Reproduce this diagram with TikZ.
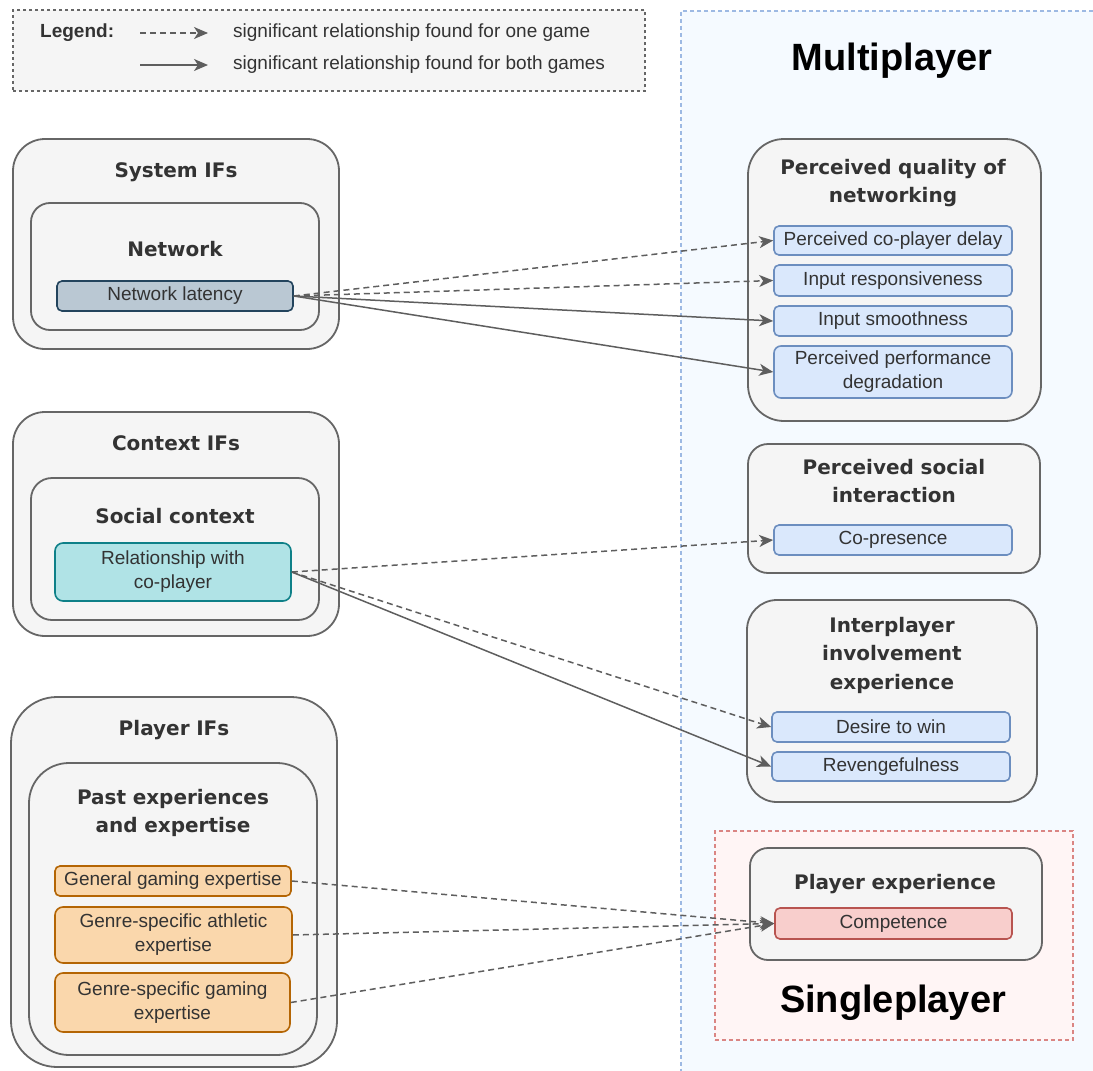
\documentclass[tikz,border=0pt]{standalone}
\usepackage{fontspec}
\setmainfont{Liberation Sans}
\newfontfamily\grpfont{DejaVu Sans}
\usepackage{tikz}
\usetikzlibrary{arrows.meta,positioning}
\definecolor{cbox}{HTML}{F5F5F5}
\definecolor{cline}{HTML}{666666}
\definecolor{ctext}{HTML}{333333}
\definecolor{cmulti}{HTML}{F5FAFF}
\definecolor{cmultiline}{HTML}{9DB9E3}
\definecolor{csingle}{HTML}{FFF5F5}
\definecolor{csingleline}{HTML}{DA8583}
\definecolor{cnetfill}{HTML}{BAC8D3}
\definecolor{cnetline}{HTML}{23445D}
\definecolor{csocfill}{HTML}{B0E3E6}
\definecolor{csocline}{HTML}{0E8088}
\definecolor{cexpfill}{HTML}{FAD7AC}
\definecolor{cexpline}{HTML}{B46504}
\definecolor{cmpfill}{HTML}{DAE8FC}
\definecolor{cmpline}{HTML}{6C8EBF}
\definecolor{cspfill}{HTML}{F8CECC}
\definecolor{cspline}{HTML}{B85450}
\definecolor{cedge}{HTML}{5E5E5E}

\begin{document}
\begin{tikzpicture}[x=1pt,y=-1pt,
  grp/.style={draw=cline,fill=cbox,line width=1.8pt,rounded corners=#1,inner sep=0pt},
  grp/.default=32pt,
  ttl/.style={font=\grpfont\bfseries\fontsize{20}{28.5}\selectfont,text=ctext,
              align=center,text width=280pt,anchor=base,inner sep=0pt},
  item/.style={draw,line width=1.6pt,rounded corners=5pt,align=center,text=ctext,
               font=\fontsize{19}{24}\selectfont,inner sep=1pt},
  netitem/.style={item,fill=cnetfill,draw=cnetline},
  socitem/.style={item,fill=csocfill,draw=csocline},
  expitem/.style={item,fill=cexpfill,draw=cexpline},
  mpitem/.style={item,fill=cmpfill,draw=cmpline},
  spitem/.style={item,fill=cspfill,draw=cspline},
  rlbl/.style={font=\bfseries\fontsize{38}{40}\selectfont,anchor=base,inner sep=0pt},
  lgtxt/.style={font=\fontsize{19}{22}\selectfont,text=ctext,anchor=west,inner sep=0pt},
  tip/.style={-{Stealth[length=14pt,width=12pt,inset=4pt]}},
  one/.style={tip,draw=cedge,line width=1.5pt,dash pattern=on 6pt off 4pt},
  both/.style={tip,draw=cedge,line width=1.5pt}]
\useasboundingbox (0,0) rectangle (1093,1071);
% regions
\fill[cmulti] (681,11) rectangle (1093,1071);
\draw[cmultiline,line width=1.4pt,dash pattern=on 4pt off 3pt] (1093,11) -| (681,1071);
\node (multi) [rlbl] at (892,70) {Multiplayer};
\node (single) [draw=csingleline,fill=csingle,line width=1.4pt,dash pattern=on 4pt off 3pt,
      minimum width=358pt,minimum height=209pt] at (894,935.5) {};
\node (singlelbl) [rlbl] at (893,1012) {Singleplayer};
% legend
\node (legend) [draw=cline,fill=cbox,line width=1.2pt,dash pattern=on 3pt off 3pt,
      minimum width=632pt,minimum height=81pt] at (329,50.5) {};
\node (legendlbl) [lgtxt,font=\bfseries\fontsize{19}{22}\selectfont] at (40,33) {Legend:};
\coordinate (ldA) at (140,33); \coordinate (ldB) at (208,33);
\coordinate (lsA) at (140,65); \coordinate (lsB) at (208,65);
\draw[one] (ldA) -- (ldB);
\draw[both] (lsA) -- (lsB);
\node (lgone)  [lgtxt] at (233,33) {significant relationship found for one game};
\node (lgboth) [lgtxt] at (233,65) {significant relationship found for both games};
% influencing factors
\node (sys) [grp,minimum width=326pt,minimum height=210pt] at (176,244) {};
\node (systtl) [ttl] at (176,177) {System IFs};
\node (net) [grp=19pt,minimum width=288pt,minimum height=127pt] at (175,266.5) {};
\node (netttl) [ttl] at (175,256) {Network};
\node (lat) [netitem,minimum width=236pt,minimum height=30pt] at (175,296) {Network latency};

\node (ctx) [grp,minimum width=326pt,minimum height=224pt] at (176,524) {};
\node (ctxttl) [ttl] at (176,450) {Context IFs};
\node (soc) [grp=21pt,minimum width=288pt,minimum height=142pt] at (175,549) {};
\node (socttl) [ttl] at (175,523) {Social context};
\node (rel) [socitem,minimum width=236pt,minimum height=58pt,rounded corners=8pt] at (173,572)
      {Relationship with\\co-player};

\node (ply) [grp=46pt,minimum width=326pt,minimum height=370pt] at (174,882) {};
\node (plyttl) [ttl] at (174,735) {Player IFs};
\node (past) [grp=40pt,minimum width=288pt,minimum height=292pt] at (173,909) {};
\node (pastttl) [ttl] at (173,804) {Past experiences\\and expertise};
\node (gen) [expitem,minimum width=236pt,minimum height=30pt] at (173,881) {General gaming expertise};
\node (ath) [expitem,minimum width=237pt,minimum height=56pt,rounded corners=8pt] at (173.5,935)
      {Genre-specific athletic\\expertise};
\node (gam) [expitem,minimum width=235pt,minimum height=59pt,rounded corners=8pt] at (172.5,1002.5)
      {Genre-specific gaming\\expertise};
% experience constructs
\node (pqn) [grp=36pt,minimum width=293pt,minimum height=282pt] at (894.5,280) {};
\node (pqnttl) [ttl] at (893,174) {Perceived quality of\\networking};
\node (pcd) [mpitem,minimum width=238pt,minimum height=29pt] at (893,240.5) {Perceived co-player delay};
\node (irs) [mpitem,minimum width=238pt,minimum height=31pt] at (893,280.5) {Input responsiveness};
\node (ism) [mpitem,minimum width=238pt,minimum height=30pt] at (893,321) {Input smoothness};
\node (ppd) [mpitem,minimum width=238pt,minimum height=52pt,rounded corners=7pt] at (893,372)
      {Perceived performance\\degradation};

\node (psi) [grp=20pt,minimum width=292pt,minimum height=129pt] at (894,508.5) {};
\node (psittl) [ttl] at (894,474) {Perceived social\\interaction};
\node (cop) [mpitem,minimum width=238pt,minimum height=30pt] at (893,540) {Co-presence};

\node (iie) [grp=30pt,minimum width=290pt,minimum height=202pt] at (892,701) {};
\node (iiettl) [ttl] at (892,632) {Interplayer\\involvement\\experience};
\node (dtw) [mpitem,minimum width=238pt,minimum height=30pt] at (891,727) {Desire to win};
\node (rev) [mpitem,minimum width=238pt,minimum height=29pt] at (891,766.5) {Revengefulness};

\node (pex) [grp=18pt,minimum width=292pt,minimum height=112pt] at (896,904) {};
\node (pexttl) [ttl] at (895,889) {Player experience};
\node (cmp) [spitem,minimum width=237pt,minimum height=31pt] at (893.5,923.5) {Competence};
% relationships
\draw[one]  (lat.east) -- (pcd.west);
\draw[one]  (lat.east) -- (irs.west);
\draw[both] (lat.east) -- (ism.west);
\draw[both] (lat.east) -- (ppd.west);
\draw[one]  (rel.east) -- (cop.west);
\draw[one]  (rel.east) -- (dtw.west);
\draw[both] (rel.east) -- (rev.west);
\draw[one]  (gen.east) -- (cmp.west);
\draw[one]  (ath.east) -- (cmp.west);
\draw[one]  (gam.east) -- (cmp.west);
\end{tikzpicture}
\end{document}
